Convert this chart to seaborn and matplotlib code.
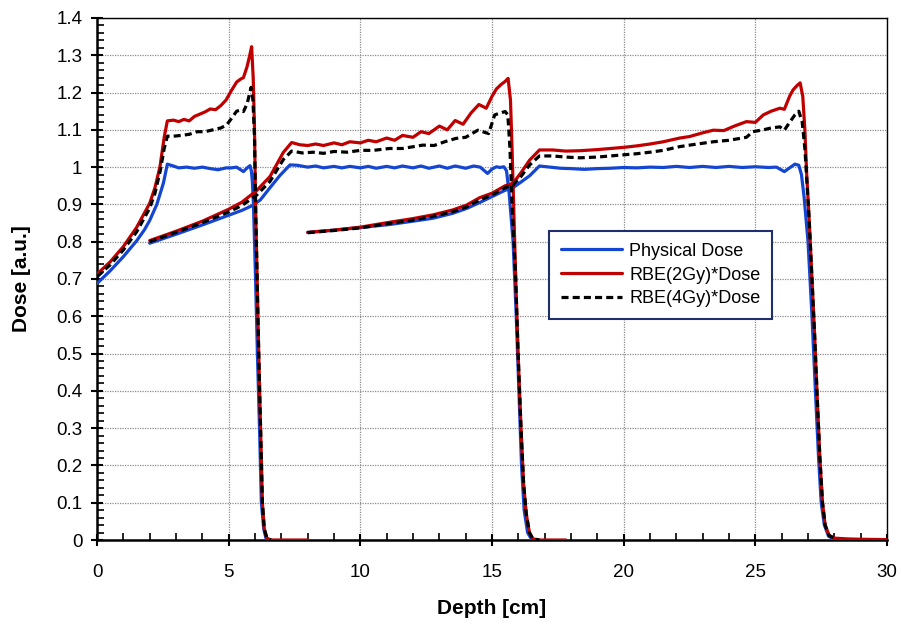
import numpy as np
import pandas as pd
import matplotlib
matplotlib.use("Agg")
import matplotlib.pyplot as plt
import seaborn as sns
from matplotlib.ticker import MultipleLocator, FuncFormatter

# ---------------- data ----------------
# SOBP 1
p1_x = [0, 0.5, 1.0, 1.5, 1.8, 2.0, 2.27, 2.52, 2.67, 2.9, 3.1, 3.4, 3.7, 4.0, 4.3, 4.6, 4.9, 5.1, 5.3,
        5.45, 5.56, 5.7, 5.81, 5.86, 5.9, 5.94, 6.02, 6.09, 6.17, 6.24, 6.33, 6.42, 6.6]
p1_y = [0.688, 0.722, 0.760, 0.802, 0.832, 0.857, 0.900, 0.957, 1.008, 1.003, 0.998, 1.0, 0.997, 1.0,
        0.996, 0.993, 0.998, 0.998, 1.0, 0.993, 0.988, 0.998, 1.004, 0.99, 0.96, 0.90, 0.70, 0.50, 0.30,
        0.10, 0.03, 0.003, 0.0]
r1_x = [0, 0.5, 1.0, 1.5, 2.0, 2.2, 2.39, 2.55, 2.67, 2.9, 3.1, 3.3, 3.5, 3.7, 3.9, 4.1, 4.3, 4.5, 4.7,
        4.9, 5.1, 5.3, 5.45, 5.56, 5.7, 5.8, 5.87, 5.93, 5.98, 6.02, 6.08, 6.14, 6.21, 6.28, 6.35, 6.45,
        6.6, 8.0]
r1_y = [0.713, 0.746, 0.787, 0.838, 0.903, 0.945, 1.001, 1.08, 1.124, 1.126, 1.122, 1.128, 1.124, 1.136,
        1.142, 1.148, 1.156, 1.154, 1.165, 1.180, 1.205, 1.228, 1.236, 1.240, 1.27, 1.30, 1.323, 1.24,
        1.10, 0.90, 0.70, 0.50, 0.30, 0.10, 0.03, 0.005, 0.0, 0.0]
b1_x = [0, 0.5, 1.0, 1.5, 2.0, 2.2, 2.4, 2.55, 2.67, 2.9, 3.2, 3.5, 3.8, 4.1, 4.4, 4.7, 4.92, 5.1, 5.3,
        5.45, 5.56, 5.7, 5.85, 5.92, 5.98, 6.02, 6.08, 6.14, 6.21, 6.28, 6.35, 6.45, 6.6]
b1_y = [0.706, 0.738, 0.778, 0.826, 0.89, 0.93, 0.99, 1.05, 1.083, 1.083, 1.085, 1.088, 1.095, 1.095,
        1.10, 1.105, 1.113, 1.13, 1.15, 1.153, 1.149, 1.17, 1.214, 1.18, 1.08, 0.90, 0.70, 0.50, 0.30,
        0.10, 0.03, 0.005, 0.0]

# SOBP 2
p2_x = [2.0, 3.0, 4.0, 5.0, 5.5, 5.9, 6.2, 6.57, 6.95, 7.33, 7.6, 8.0, 8.3, 8.6, 9.0, 9.3, 9.6, 10.0,
        10.3, 10.6, 11.0, 11.3, 11.6, 12.0, 12.3, 12.6, 13.0, 13.3, 13.6, 14.0, 14.3, 14.55, 14.83, 15.0,
        15.17, 15.3, 15.45, 15.55, 15.65, 15.8, 15.92, 16.02, 16.12, 16.22, 16.35, 16.5, 16.7]
p2_y = [0.796, 0.820, 0.845, 0.871, 0.884, 0.897, 0.912, 0.945, 0.978, 1.006, 1.005, 1.0, 1.003, 0.998,
        1.002, 0.998, 1.002, 0.998, 1.002, 0.997, 1.002, 0.998, 1.003, 0.998, 1.003, 0.997, 1.003, 0.997,
        1.003, 0.997, 1.003, 1.0, 0.983, 0.995, 1.001, 0.999, 1.001, 0.99, 0.93, 0.80, 0.60, 0.40, 0.20,
        0.08, 0.02, 0.002, 0.0]
r2_x = [2.0, 3.0, 4.0, 5.0, 5.5, 6.06, 6.57, 7.07, 7.39, 7.7, 8.0, 8.3, 8.6, 9.0, 9.3, 9.6, 10.0, 10.3,
        10.6, 11.0, 11.3, 11.6, 12.0, 12.3, 12.6, 13.0, 13.3, 13.6, 13.9, 14.2, 14.5, 14.78, 15.0, 15.17,
        15.35, 15.5, 15.61, 15.7, 15.76, 15.82, 15.9, 15.99, 16.1, 16.2, 16.3, 16.42, 16.55, 16.8, 17.8]
r2_y = [0.803, 0.828, 0.855, 0.887, 0.906, 0.937, 0.975, 1.039, 1.066, 1.06, 1.058, 1.062, 1.058, 1.065,
        1.06, 1.068, 1.065, 1.072, 1.068, 1.078, 1.072, 1.085, 1.08, 1.095, 1.09, 1.11, 1.10, 1.125,
        1.115, 1.145, 1.168, 1.158, 1.19, 1.21, 1.222, 1.23, 1.238, 1.18, 1.05, 0.90, 0.70, 0.50, 0.30,
        0.15, 0.07, 0.02, 0.003, 0.0, 0.0]
b2_x = [2.0, 3.0, 4.0, 5.0, 5.5, 6.06, 6.57, 7.07, 7.39, 7.8, 8.2, 8.6, 9.0, 9.5, 10.0, 10.5, 11.1,
        11.6, 12.37, 12.8, 13.2, 13.63, 14.0, 14.46, 14.87, 15.1, 15.3, 15.5, 15.6, 15.68, 15.76, 15.9,
        15.99, 16.1, 16.2, 16.3, 16.42, 16.55, 16.8]
b2_y = [0.800, 0.825, 0.851, 0.880, 0.897, 0.925, 0.962, 1.02, 1.043, 1.038, 1.04, 1.037, 1.042, 1.04,
        1.045, 1.045, 1.05, 1.05, 1.059, 1.058, 1.068, 1.077, 1.08, 1.099, 1.09, 1.14, 1.145, 1.149, 1.14,
        1.05, 0.90, 0.70, 0.50, 0.30, 0.15, 0.07, 0.02, 0.003, 0.0]

# SOBP 3
p3_x = [8.0, 9.0, 10.0, 11.1, 12.0, 12.76, 13.5, 14.03, 14.53, 15.0, 15.5, 15.8, 16.1, 16.43, 16.8,
        17.2, 17.6, 18.0, 18.5, 19.0, 19.5, 20.0, 20.5, 21.0, 21.5, 22.0, 22.5, 23.0, 23.5, 24.0, 24.5,
        25.0, 25.5, 25.8, 26.1, 26.3, 26.5, 26.65, 26.75, 26.85, 27.0, 27.15, 27.28, 27.4, 27.5, 27.62,
        27.78, 28.0, 28.3]
p3_y = [0.825, 0.831, 0.838, 0.846, 0.855, 0.863, 0.876, 0.889, 0.905, 0.921, 0.938, 0.945, 0.96, 0.977,
        1.003, 1.0, 0.997, 0.996, 0.994, 0.996, 0.997, 0.999, 0.998, 1.0, 0.999, 1.002, 0.999, 1.002,
        0.999, 1.002, 0.999, 1.001, 0.999, 1.0, 0.988, 0.998, 1.008, 1.005, 0.98, 0.92, 0.80, 0.60, 0.40,
        0.22, 0.10, 0.04, 0.01, 0.002, 0.0]
r3_x = [8.0, 9.0, 10.0, 11.1, 12.0, 12.76, 13.5, 14.03, 14.53, 15.0, 15.5, 15.8, 16.1, 16.43, 16.8,
        17.3, 17.8, 18.33, 19.0, 19.5, 20.0, 20.5, 21.0, 21.5, 22.13, 22.5, 23.0, 23.4, 23.8, 24.2, 24.66,
        25.0, 25.3, 25.6, 25.93, 26.1, 26.3, 26.43, 26.6, 26.7, 26.8, 26.88, 26.95, 27.05, 27.15, 27.25,
        27.35, 27.45, 27.55, 27.65, 27.8, 28.0, 28.5, 29.0, 30.0]
r3_y = [0.825, 0.831, 0.839, 0.852, 0.862, 0.872, 0.885, 0.898, 0.918, 0.93, 0.95, 0.957, 0.985, 1.019,
        1.046, 1.046, 1.043, 1.044, 1.047, 1.05, 1.053, 1.057, 1.062, 1.068, 1.078, 1.082, 1.092, 1.099,
        1.098, 1.11, 1.122, 1.12, 1.14, 1.15, 1.158, 1.155, 1.19, 1.207, 1.22, 1.226, 1.19, 1.10, 0.98,
        0.85, 0.70, 0.55, 0.38, 0.22, 0.10, 0.04, 0.012, 0.005, 0.003, 0.002, 0.001]
b3_x = [8.0, 9.0, 10.0, 11.1, 12.0, 12.76, 13.5, 14.03, 14.53, 15.0, 15.5, 15.8, 16.1, 16.43, 16.8,
        17.3, 17.8, 18.33, 19.0, 19.5, 20.0, 20.5, 21.0, 21.5, 22.13, 22.6, 23.4, 24.0, 24.66, 24.9, 25.3,
        25.6, 25.93, 26.1, 26.3, 26.5, 26.65, 26.78, 26.88, 26.95, 27.05, 27.15, 27.25, 27.35, 27.45,
        27.55, 27.65, 27.8, 28.0]
b3_y = [0.824, 0.830, 0.837, 0.849, 0.858, 0.868, 0.880, 0.893, 0.912, 0.925, 0.945, 0.952, 0.975,
        1.006, 1.030, 1.03, 1.027, 1.025, 1.027, 1.03, 1.033, 1.036, 1.04, 1.045, 1.055, 1.06, 1.068,
        1.072, 1.08, 1.095, 1.10, 1.105, 1.108, 1.099, 1.12, 1.14, 1.150, 1.12, 1.05, 0.97, 0.85, 0.70,
        0.55, 0.38, 0.22, 0.10, 0.04, 0.012, 0.005]

series_names = ["Physical Dose", "RBE(2Gy)*Dose", "RBE(4Gy)*Dose"]
x_ticks = [0, 5, 10, 15, 20, 25, 30]
y_ticks = [0, 0.1, 0.2, 0.3, 0.4, 0.5, 0.6, 0.7, 0.8, 0.9, 1.0, 1.1, 1.2, 1.3, 1.4]

# ---------------- style ----------------
sns.set_style("ticks")
plt.rcParams['font.family'] = ['Liberation Sans', 'DejaVu Sans']
plt.rcParams['text.color'] = 'black'
plt.rcParams['axes.labelcolor'] = 'black'

BLUE = "#1446d2"
RED = "#c00000"
BLACK = "#000000"
LW = 2.3

fig = plt.figure(figsize=(9.01, 6.24), dpi=100)
ax = fig.add_axes([0.1077, 0.1346, 0.8768, 0.8366])

groups = [
    (p1_x, p1_y, r1_x, r1_y, b1_x, b1_y),
    (p2_x, p2_y, r2_x, r2_y, b2_x, b2_y),
    (p3_x, p3_y, r3_x, r3_y, b3_x, b3_y),
]
for gi, (px, py, rx, ry, bx, by) in enumerate(groups):
    lab = (lambda s: s) if gi == 0 else (lambda s: None)
    sns.lineplot(x=px, y=py, ax=ax, color=BLUE, lw=LW, sort=False, estimator=None,
                 label=lab(series_names[0]), zorder=3)
    sns.lineplot(x=rx, y=ry, ax=ax, color=RED, lw=LW, sort=False, estimator=None,
                 label=lab(series_names[1]), zorder=4)
    sns.lineplot(x=bx, y=by, ax=ax, color=BLACK, lw=LW, sort=False, estimator=None,
                 label=lab(series_names[2]), zorder=5, linestyle=(0, (2.2, 1.3)))

ax.set_xlim(0, 30)
ax.set_ylim(0, 1.4)
ax.set_xticks(x_ticks)
ax.set_yticks(y_ticks)
ax.xaxis.set_minor_locator(MultipleLocator(1))
ax.yaxis.set_minor_locator(MultipleLocator(0.02))
ax.yaxis.set_major_formatter(FuncFormatter(lambda v, p: f"{v:g}"))
ax.xaxis.set_major_formatter(FuncFormatter(lambda v, p: f"{v:g}"))

ax.tick_params(which='major', direction='inout', length=9, width=1.5, labelsize=13.5, pad=13,
               color='black', labelcolor='black')
ax.tick_params(axis='y', which='major', pad=6)
ax.tick_params(which='minor', direction='in', length=5, width=1.2, color='black')

ax.grid(True, which='major', linestyle=(0, (1, 1)), color='#8c8c8c', linewidth=0.9)
ax.set_axisbelow(True)

for side in ['left', 'bottom']:
    ax.spines[side].set_linewidth(1.8)
    ax.spines[side].set_color('black')
for side in ['top', 'right']:
    ax.spines[side].set_linewidth(1.0)
    ax.spines[side].set_color('black')
    ax.spines[side].set_visible(True)

ax.set_xlabel("Depth [cm]", fontsize=15, fontweight='bold', labelpad=13, color='black')
ax.set_ylabel("Dose [a.u.]", fontsize=15, fontweight='bold', labelpad=18, color='black')

leg = ax.legend(loc='upper left', bbox_to_anchor=(0.572, 0.592), fontsize=13, frameon=True,
                fancybox=False, handlelength=3.4, handletextpad=0.4, borderpad=0.65,
                labelspacing=0.38, borderaxespad=0)
leg.get_frame().set_edgecolor('#1f2f6e')
leg.get_frame().set_linewidth(1.5)
leg.get_frame().set_alpha(1)
for t in leg.get_texts():
    t.set_color('black')

fig.savefig("out.png", dpi=100)
